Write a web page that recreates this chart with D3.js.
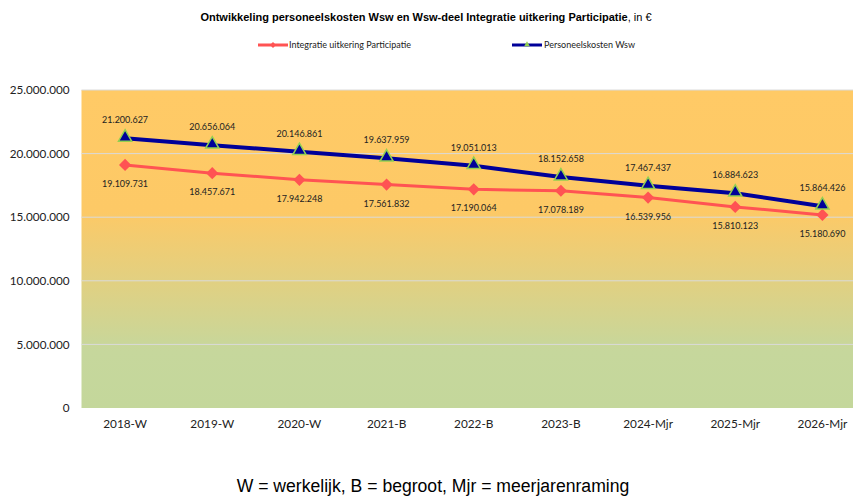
<!DOCTYPE html>
<html>
<head>
<meta charset="utf-8">
<script src="https://cdn.jsdelivr.net/npm/d3@7"></script>
<style>
  html, body { margin: 0; padding: 0; background: #fff; }
  svg { display: block; }
</style>
</head>
<body>
<svg id="chart" width="853" height="496"></svg>
<script>
// categories and series
const categories = ['2018-W', '2019-W', '2020-W', '2021-B', '2022-B', '2023-B', '2024-Mjr', '2025-Mjr', '2026-Mjr'];
const integratie = [19109731, 18457671, 17942248, 17561832, 17190064, 17078189, 16539956, 15810123, 15180690];
const personeel = [21200627, 20656064, 20146861, 19637959, 19051013, 18152658, 17467437, 16884623, 15864426];
const yTicks = [0, 5000000, 10000000, 15000000, 20000000, 25000000];

const width = 853;
const height = 496;
const plot = { left: 81.5, right: 866, top: 90, bottom: 408 };

const fmt = v => d3.format(',')(v).replace(/,/g, '.');

const svg = d3.select('#chart');

// background gradient of plot area
const defs = svg.append('defs');
const grad = defs.append('linearGradient')
  .attr('id', 'bg').attr('x1', 0).attr('y1', 0).attr('x2', 0).attr('y2', 1);
grad.append('stop').attr('offset', '0%').attr('stop-color', '#FFCA66');
grad.append('stop').attr('offset', '38%').attr('stop-color', '#FDC966');
grad.append('stop').attr('offset', '82%').attr('stop-color', '#C6D79C');
grad.append('stop').attr('offset', '100%').attr('stop-color', '#C4D79B');

const x = d3.scaleBand()
  .domain(categories)
  .range([plot.left, plot.right]);

const y = d3.scaleLinear()
  .domain([0, 25000000])
  .range([plot.bottom, plot.top]);

const cx = c => x(c) + x.bandwidth() / 2;

svg.append('rect')
  .attr('x', plot.left)
  .attr('y', plot.top)
  .attr('width', plot.right - plot.left)
  .attr('height', plot.bottom - plot.top)
  .attr('fill', 'url(#bg)');

// gridlines
svg.append('g')
  .selectAll('line')
  .data(yTicks.filter(t => t > 0))
  .enter()
  .append('line')
  .attr('x1', plot.left)
  .attr('x2', plot.right)
  .attr('y1', d => y(d))
  .attr('y2', d => y(d))
  .attr('stroke', '#DADADA')
  .attr('stroke-width', 1);

const axisFont = 'Lato, "Open Sans", sans-serif';

// y axis
const yAxis = svg.append('g')
  .attr('transform', `translate(${plot.left},0)`)
  .call(d3.axisLeft(y).tickValues(yTicks).tickFormat(fmt).tickSize(0).tickPadding(12));
yAxis.select('.domain').remove();
yAxis.selectAll('text')
  .attr('font-family', axisFont)
  .attr('font-size', 11.7)
  .attr('fill', '#222');

// x axis
const xAxis = svg.append('g')
  .attr('transform', `translate(0,${plot.bottom})`)
  .call(d3.axisBottom(x).tickSize(0).tickPadding(12));
xAxis.select('.domain').remove();
xAxis.selectAll('text')
  .attr('font-family', axisFont)
  .attr('font-size', 11.8)
  .attr('fill', '#222');

const line = d3.line()
  .x((d, i) => cx(categories[i]))
  .y(d => y(d));

// Personeelskosten Wsw (blue)
svg.append('path')
  .datum(personeel)
  .attr('d', line)
  .attr('fill', 'none')
  .attr('stroke', '#000099')
  .attr('stroke-width', 4);

// Integratie uitkering Participatie (red)
svg.append('path')
  .datum(integratie)
  .attr('d', line)
  .attr('fill', 'none')
  .attr('stroke', '#FF5353')
  .attr('stroke-width', 3);

const diamond = d3.symbol().type(d3.symbolDiamond2).size(95);
const triangle = d3.symbol().type(d3.symbolTriangle).size(75);

svg.append('g')
  .selectAll('path')
  .data(integratie)
  .enter()
  .append('path')
  .attr('d', diamond)
  .attr('transform', (d, i) => `translate(${cx(categories[i])},${y(d)})`)
  .attr('fill', '#FF5353');

svg.append('g')
  .selectAll('path')
  .data(personeel)
  .enter()
  .append('path')
  .attr('d', triangle)
  .attr('transform', (d, i) => `translate(${cx(categories[i])},${y(d) - 1})`)
  .attr('fill', '#000099')
  .attr('stroke', '#92D050')
  .attr('stroke-width', 1.5);

// data labels
svg.append('g')
  .selectAll('text')
  .data(personeel)
  .enter()
  .append('text')
  .attr('x', (d, i) => cx(categories[i]))
  .attr('y', d => y(d) - 15)
  .attr('text-anchor', 'middle')
  .attr('font-family', axisFont)
  .attr('font-size', 9)
  .attr('fill', '#222')
  .text(fmt);

svg.append('g')
  .selectAll('text')
  .data(integratie)
  .enter()
  .append('text')
  .attr('x', (d, i) => cx(categories[i]))
  .attr('y', d => y(d) + 22)
  .attr('text-anchor', 'middle')
  .attr('font-family', axisFont)
  .attr('font-size', 9)
  .attr('fill', '#222')
  .text(fmt);

// title
const title = svg.append('text')
  .attr('x', 426)
  .attr('y', 21)
  .attr('text-anchor', 'middle')
  .attr('font-family', '"Liberation Sans", Arial, sans-serif')
  .attr('font-size', 11)
  .attr('fill', '#000');
title.append('tspan').attr('font-weight', 'bold')
  .text('Ontwikkeling  personeelskosten  Wsw en Wsw-deel Integratie uitkering Participatie');
title.append('tspan').text(', in €');

// legend
const legend = svg.append('g');
legend.append('line')
  .attr('x1', 258).attr('x2', 288).attr('y1', 45).attr('y2', 45)
  .attr('stroke', '#FF5353').attr('stroke-width', 3);
legend.append('path')
  .attr('d', d3.symbol().type(d3.symbolDiamond2).size(22))
  .attr('transform', 'translate(273,45)')
  .attr('fill', '#FF5353');
legend.append('text')
  .attr('x', 289).attr('y', 48)
  .attr('font-family', axisFont).attr('font-size', 9).attr('fill', '#222')
  .text('Integratie uitkering Participatie');

legend.append('line')
  .attr('x1', 512).attr('x2', 542).attr('y1', 45).attr('y2', 45)
  .attr('stroke', '#000099').attr('stroke-width', 3);
legend.append('path')
  .attr('d', d3.symbol().type(d3.symbolTriangle).size(14))
  .attr('transform', 'translate(527,44.5)')
  .attr('fill', '#92D050');
legend.append('text')
  .attr('x', 544).attr('y', 48)
  .attr('font-family', axisFont).attr('font-size', 9).attr('fill', '#222')
  .text('Personeelskosten Wsw');

// footnote
svg.append('text')
  .attr('x', 433)
  .attr('y', 492)
  .attr('text-anchor', 'middle')
  .attr('font-family', '"Liberation Sans", Arial, sans-serif')
  .attr('font-size', 17.6)
  .attr('fill', '#000')
  .text('W = werkelijk, B = begroot, Mjr = meerjarenraming');
</script>
</body>
</html>
